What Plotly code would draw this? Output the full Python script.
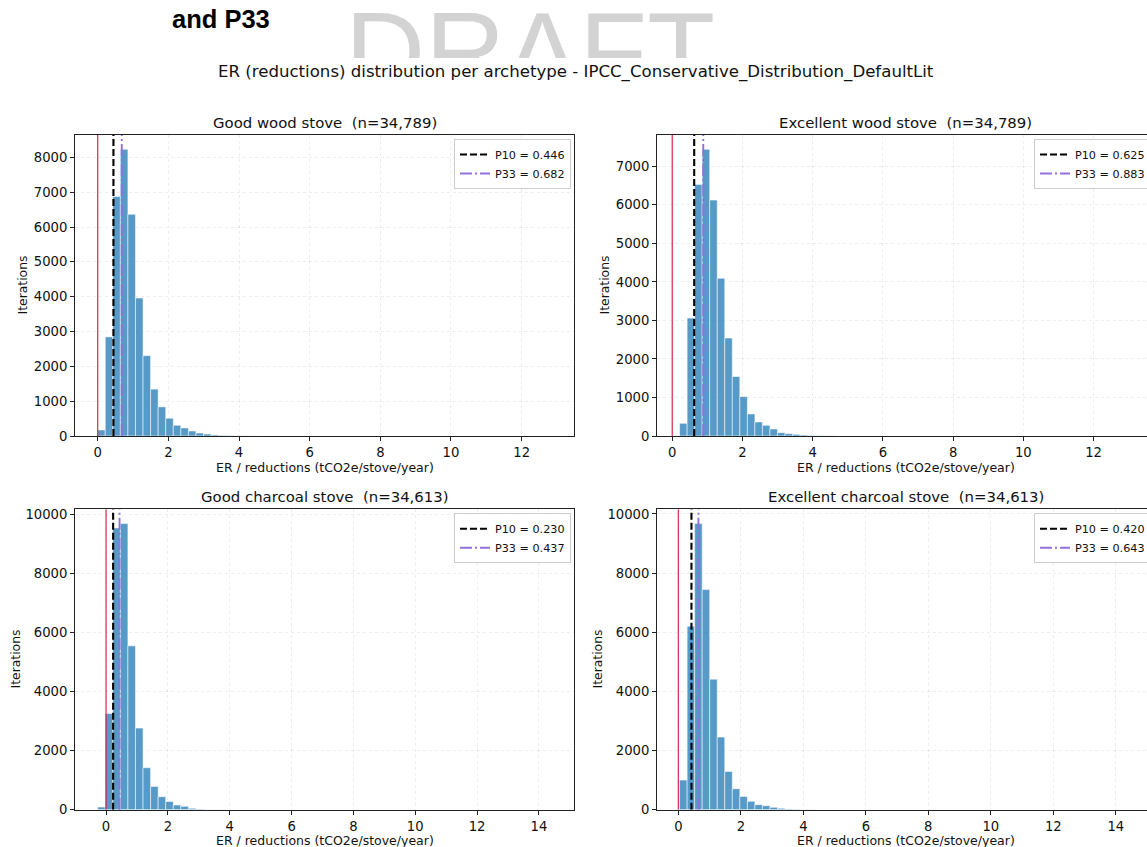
import plotly.graph_objects as go

# ---------------- data ----------------
archetypes = ["Good wood stove", "Excellent wood stove",
              "Good charcoal stove", "Excellent charcoal stove"]
n_iterations = [34789, 34789, 34613, 34613]
p10_values = [0.446, 0.625, 0.230, 0.420]
p33_values = [0.682, 0.883, 0.437, 0.643]

# histogram bin definition (60 bins per archetype)
n_bins = 60
bin_start = [0.0, 0.209, -0.27, 0.04]
bin_width = [0.214, 0.2145, 0.2445, 0.241]

counts_good_wood = [173, 2846, 6875, 8230, 6365, 3960, 2308, 1346, 837, 510,
                    308, 231, 144, 87, 58, 30, 18, 10, 6, 4, 2]
counts_excellent_wood = [330, 3062, 6531, 7441, 6123, 4094, 2541, 1544, 1023, 572,
                         364, 277, 182, 87, 61, 43, 26, 15, 8, 5, 3]
counts_good_charcoal = [90, 3262, 9548, 9695, 5553, 2765, 1422, 790, 440, 282,
                        158, 113, 45, 20, 10, 5, 3]
counts_excellent_charcoal = [1002, 6205, 9673, 7444, 4414, 2455, 1295, 709, 450, 282,
                             169, 135, 79, 45, 22, 12, 6, 3]
all_counts = [counts_good_wood, counts_excellent_wood,
              counts_good_charcoal, counts_excellent_charcoal]

suptitle = "ER (reductions) distribution per archetype - IPCC_Conservative_Distribution_DefaultLit"
x_label = "ER / reductions (tCO2e/stove/year)"
y_label = "Iterations"

# ---------------- layout / style ----------------
W, H = 1147, 847
FONT = "DejaVu Sans"
col_px = [(75, 574), (657, 1154)]      # full axes extents (right column runs past the page edge)
row_px = [(135, 436), (509.3, 809.7)]
y_dticks = [1000, 1000, 2000, 2000]
ylabel_x_px = [22, 604, 15, 597]
BAR_COLOR = "rgba(31,119,180,0.75)"
SPINE = "#222222"
TXT = "#111111"


def fx(p):
    return p / W


def fy(p):
    return 1 - p / H


fig = go.Figure()
layout = dict(
    width=W, height=H,
    margin=dict(l=0, r=0, t=0, b=0, autoexpand=False),
    paper_bgcolor="white", plot_bgcolor="white",
    showlegend=True, hovermode=False,
    barmode="overlay",
)
annotations = []

for i in range(4):
    r, c = divmod(i, 2)
    sfx = "" if i == 0 else str(i + 1)
    xa, ya = "x" + sfx, "y" + sfx
    leg = "legend" if i == 0 else "legend" + str(i + 1)
    counts = all_counts[i]
    a, w = bin_start[i], bin_width[i]
    span = n_bins * w
    xr = [a - 0.05 * span, a + 1.05 * span]
    ymax = 1.05 * max(counts)
    centers = [a + w * (k + 0.5) for k in range(len(counts))]

    # the visible part of the axes is cut by the page edge
    left_px, right_px = col_px[c]
    vis_right = min(right_px, W)
    xr_vis = [xr[0], xr[0] + (vis_right - left_px) / (right_px - left_px) * (xr[1] - xr[0])]

    fig.add_trace(go.Bar(
        x=centers, y=counts, width=[w] * len(counts),
        marker=dict(color=BAR_COLOR, line=dict(color="rgba(255,255,255,0.9)", width=0.6)),
        xaxis=xa, yaxis=ya, showlegend=False,
    ))
    fig.add_trace(go.Scatter(
        x=[0, 0], y=[0, ymax], mode="lines",
        line=dict(color="rgba(220,20,60,0.85)", width=1.3),
        xaxis=xa, yaxis=ya, showlegend=False,
    ))
    fig.add_trace(go.Scatter(
        x=[p10_values[i]] * 2, y=[0, ymax], mode="lines",
        name=f"P10 = {p10_values[i]:.3f}",
        line=dict(color="black", width=2.1, dash="7px,3px"),
        xaxis=xa, yaxis=ya, legend=leg,
    ))
    fig.add_trace(go.Scatter(
        x=[p33_values[i]] * 2, y=[0, ymax], mode="lines",
        name=f"P33 = {p33_values[i]:.3f}",
        line=dict(color="#9370DB", width=1.9, dash="12px,3px,2px,3px"),
        xaxis=xa, yaxis=ya, legend=leg,
    ))

    common = dict(
        showline=True, linecolor=SPINE, linewidth=1,
        ticks="outside", ticklen=4, tickwidth=1, tickcolor=SPINE,
        showgrid=True, gridcolor="rgba(0,0,0,0.07)", griddash="dot", gridwidth=1,
        zeroline=False, fixedrange=True,
        tickfont=dict(family=FONT, size=13.2, color=TXT),
    )
    layout["xaxis" + sfx] = dict(
        domain=[fx(left_px), fx(vis_right)], range=xr_vis, mirror=True,
        tick0=0, dtick=2, anchor=ya, **common)
    layout["yaxis" + sfx] = dict(
        domain=[fy(row_px[r][1]), fy(row_px[r][0])], range=[0, ymax],
        mirror=(right_px <= W),
        tick0=0, dtick=y_dticks[i], tickformat="d", anchor=xa, **common)

    layout[leg] = dict(
        x=fx(right_px - 3), y=fy(row_px[r][0] + 4),
        xanchor="right", yanchor="top",
        bgcolor="rgba(255,255,255,0.85)", bordercolor="#cccccc", borderwidth=1,
        font=dict(family=FONT, size=11.2, color=TXT),
        itemwidth=30, tracegroupgap=0,
    )

    cx = (left_px + right_px) / 2
    annotations.append(dict(
        text=f"{archetypes[i]}  (n={n_iterations[i]:,})",
        x=fx(cx), y=fy(row_px[r][0] - 12), xref="paper", yref="paper",
        xanchor="center", yanchor="middle", showarrow=False,
        font=dict(family=FONT, size=14.9, color=TXT)))
    annotations.append(dict(
        text=x_label, x=fx(cx), y=fy(row_px[r][1] + 31), xref="paper", yref="paper",
        xanchor="center", yanchor="middle", showarrow=False,
        font=dict(family=FONT, size=12.5, color=TXT)))
    annotations.append(dict(
        text=y_label, x=fx(ylabel_x_px[i]), y=fy((row_px[r][0] + row_px[r][1]) / 2),
        xref="paper", yref="paper", textangle=-90,
        xanchor="center", yanchor="middle", showarrow=False,
        font=dict(family=FONT, size=12.4, color=TXT)))

annotations.append(dict(
    text=suptitle, x=fx(576), y=fy(72), xref="paper", yref="paper",
    xanchor="center", yanchor="middle", showarrow=False,
    font=dict(family=FONT, size=16.6, color=TXT)))

annotations.append(dict(
    text="<b>and P33</b>", x=fx(170), y=fy(19), xref="paper", yref="paper",
    xanchor="left", yanchor="middle", showarrow=False,
    font=dict(family="Liberation Sans", size=25.5, color="black")))

# DRAFT watermark, clipped by the figure's top edge (overlay axes only over the header strip)
fig.add_trace(go.Scatter(
    x=[fx(530)], y=[-0.07], mode="text", text=["DRAFT"],
    textfont=dict(family="Liberation Sans", size=111, color="#d3d3d3"),
    textposition="middle center", cliponaxis=True,
    xaxis="x5", yaxis="y5", showlegend=False,
))
layout["xaxis5"] = dict(domain=[0, 1], range=[0, 1], visible=False, fixedrange=True, anchor="y5")
layout["yaxis5"] = dict(domain=[fy(58), 1], range=[0, 1], visible=False, fixedrange=True, anchor="x5")

layout["annotations"] = annotations
fig.update_layout(**layout)

fig.write_html("out.html",
               config={"displayModeBar": False, "staticPlot": True},
               post_script="document.body.style.margin='0';document.body.style.overflow='hidden';")
